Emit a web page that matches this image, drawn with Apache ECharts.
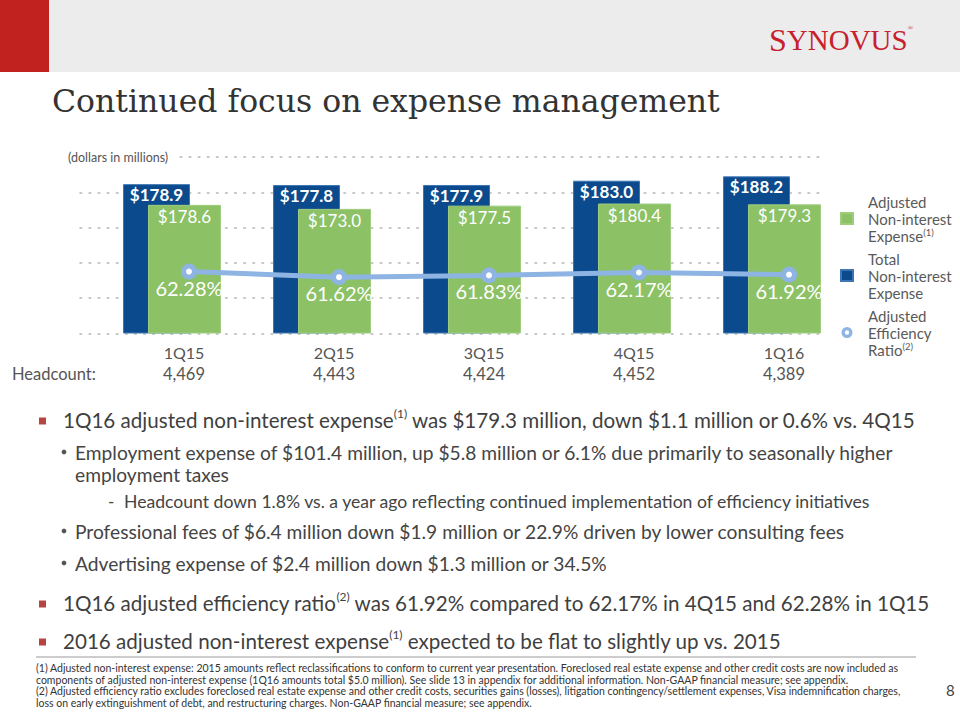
<!DOCTYPE html>
<html>
<head>
<meta charset="utf-8">
<script src="https://cdn.jsdelivr.net/npm/echarts@6/dist/echarts.min.js"></script>
<style>
html,body{margin:0;padding:0;background:#fff;}
#chart{width:960px;height:720px;}
</style>
</head>
<body>
<div id="chart"></div>
<script>
// ---- data ----
const quarters = ['1Q15', '2Q15', '3Q15', '4Q15', '1Q16'];
const headcount = ['4,469', '4,443', '4,424', '4,452', '4,389'];
const totalExpense = [178.9, 177.8, 177.9, 183.0, 188.2];
const adjustedExpense = [178.6, 173.0, 177.5, 180.4, 179.3];
const efficiencyRatio = [62.28, 61.62, 61.83, 62.17, 61.92];

const NAME_ADJ = 'Adjusted Non-interest Expense';
const NAME_TOT = 'Total Non-interest Expense';
const NAME_RAT = 'Adjusted Efficiency Ratio';
const legendText = {};
legendText[NAME_ADJ] = 'Adjusted\nNon-interest\nExpense{sup|(1)}';
legendText[NAME_TOT] = 'Total\nNon-interest\nExpense';
legendText[NAME_RAT] = 'Adjusted\nEfficiency\nRatio{sup|(2)}';

const BLUE = '#0b4b8d', GREEN = '#8cc166', LBLUE = '#8db4e2';
const FONT = 'Lato';
const BODY = '#444444';

const chart = echarts.init(document.getElementById('chart'), null, {renderer: 'svg'});

function bodyText(x, y, text, size, color, weight) {
  return {
    type: 'text', x: x, y: y, z: 10,
    style: {
      text: text, fontFamily: FONT, fontSize: size, fontWeight: weight || 'normal',
      fill: color || BODY, verticalAlign: 'middle', lineHeight: Math.round(size + 4),
      rich: {
        sup: {fontFamily: FONT, fontSize: Math.round(size * 0.56), lineHeight: Math.round(size * 0.62), verticalAlign: 'top', fill: color || BODY}
      }
    }
  };
}
function redBullet(y) {
  return {type: 'rect', shape: {x: 39, y: y - 3.5, width: 7, height: 7}, style: {fill: '#b6453f'}, z: 10};
}
function dot(x, y) {
  return {type: 'circle', shape: {cx: x, cy: y, r: 2.4}, style: {fill: '#555'}, z: 10};
}

const graphics = [
  {type: 'rect', shape: {x: 0, y: 0, width: 960, height: 72}, style: {fill: '#ececec'}, z: 1},
  {type: 'rect', shape: {x: 0, y: 0, width: 49, height: 72}, style: {fill: '#c1221f'}, z: 2},
  {type: 'text', x: 769, y: 40, z: 3, style: {
    text: '{a|S}{b|YNOVUS}{c|®}', verticalAlign: 'middle',
    rich: {
      a: {fontFamily: 'Liberation Serif', fontSize: 32, fill: '#c8202c'},
      b: {fontFamily: 'Liberation Serif', fontSize: 29, fill: '#c8202c'},
      c: {fontFamily: 'Liberation Serif', fontSize: 7, fill: '#c8202c', verticalAlign: 'top'}
    }
  }},
  {type: 'text', x: 52, y: 101, z: 3, style: {
    text: 'Continued focus on expense management', fontFamily: 'DejaVu Serif', fontSize: 31.5,
    fill: '#333333', verticalAlign: 'middle'
  }},
  {type: 'text', x: 68, y: 157, z: 5, style: {
    text: '(dollars in millions)', fontFamily: FONT, fontSize: 12.5, fill: '#555',
    verticalAlign: 'middle', backgroundColor: '#fff', padding: [3, 8, 3, 0]
  }},
  {type: 'text', x: 12, y: 374, z: 5, style: {
    text: 'Headcount:', fontFamily: FONT, fontSize: 16.5, fill: '#555', verticalAlign: 'middle'
  }},
  // body bullets
  redBullet(421),
  bodyText(63, 420, '1Q16 adjusted non-interest expense{sup|(1)} was $179.3 million, down $1.1 million or 0.6% vs. 4Q15', 20.6, '#3f3f3f'),
  dot(64, 452),
  bodyText(75, 452.5, 'Employment expense of $101.4 million, up $5.8 million or 6.1% due primarily to seasonally higher', 19.2),
  bodyText(75, 474, 'employment taxes', 19.2),
  {type: 'text', x: 108, y: 501, z: 10, style: {text: '-', fontFamily: FONT, fontSize: 17, fill: BODY, verticalAlign: 'middle'}},
  bodyText(124, 501, 'Headcount down 1.8% vs. a year ago reflecting continued implementation of efficiency initiatives', 17.6),
  dot(64, 531),
  bodyText(75, 531, 'Professional fees of $6.4 million down $1.9 million or 22.9% driven by lower consulting fees', 19.2),
  dot(64, 563),
  bodyText(75, 563, 'Advertising expense of $2.4 million down $1.3 million or 34.5%', 19.2),
  redBullet(604),
  bodyText(63, 603, '1Q16 adjusted efficiency ratio{sup|(2)} was 61.92% compared to 62.17% in 4Q15 and 62.28% in 1Q15', 20.6, '#3f3f3f'),
  redBullet(642),
  bodyText(63, 641, '2016 adjusted non-interest expense{sup|(1)} expected to be flat to slightly up vs. 2015', 20.6, '#3f3f3f'),
  // footnotes
  {type: 'line', shape: {x1: 36, y1: 657, x2: 916, y2: 657}, style: {stroke: '#9a9a9a', lineWidth: 1}, z: 5},
  bodyText(36, 668, '(1) Adjusted non-interest expense: 2015 amounts reflect reclassifications to conform to current year presentation. Foreclosed real estate expense and other credit costs are now included as', 10.5, '#333'),
  bodyText(36, 679.5, 'components of adjusted non-interest expense (1Q16 amounts total $5.0 million). See slide 13 in appendix for additional information. Non-GAAP financial measure; see appendix.', 10.5, '#333'),
  bodyText(36, 691, '(2) Adjusted efficiency ratio excludes foreclosed real estate expense and other credit costs, securities gains (losses), litigation contingency/settlement expenses, Visa indemnification charges,', 10.5, '#333'),
  bodyText(36, 702.5, 'loss on early extinguishment of debt, and restructuring charges. Non-GAAP financial measure; see appendix.', 10.5, '#333'),
  {type: 'text', x: 946, y: 690, z: 5, style: {text: '8', fontFamily: FONT, fontSize: 15, fill: '#444', verticalAlign: 'middle'}}
];

const option = {
  backgroundColor: '#fff',
  animation: false,
  textStyle: {fontFamily: FONT},
  grid: [
    {left: 97, right: 113, top: 157, bottom: 386.5},
    {left: 114, right: 96, top: 157, bottom: 386.5},
    {left: 80, right: 137, top: 157, bottom: 386.5}
  ],
  xAxis: [
    {type: 'category', gridIndex: 0, data: quarters, show: false},
    {type: 'category', gridIndex: 1, data: quarters,
      axisLine: {show: false}, axisTick: {show: false},
      axisLabel: {
        margin: 7.5, padding: [0, 10, 0, 0],
        formatter: function (v, i) { return '{q|' + v + '}\n{h|' + headcount[i] + '}'; },
        rich: {
          q: {fontFamily: FONT, fontSize: 16, color: '#555', lineHeight: 22},
          h: {fontFamily: FONT, fontSize: 16.5, color: '#555', lineHeight: 22}
        }
      }
    },
    {type: 'value', gridIndex: 2, min: 0, max: 1, show: false}
  ],
  yAxis: [
    {type: 'value', gridIndex: 0, min: 0, max: 211.4, show: false},
    {type: 'value', gridIndex: 0, min: 0, max: 245, show: false},
    {type: 'value', gridIndex: 1, min: 55, max: 75.75, show: false},
    {type: 'value', gridIndex: 2, min: 0, max: 5, interval: 1,
      axisLine: {show: false}, axisTick: {show: false}, axisLabel: {show: false},
      splitLine: {show: true, lineStyle: {color: '#b5b5b5', width: 1.6, type: [1.6, 7.5], cap: 'round'}}
    }
  ],
  legend: {
    orient: 'vertical', left: 840, top: 193, itemWidth: 12, itemHeight: 11, itemGap: 6,
    padding: 0, selectedMode: false,
    data: [
      {name: NAME_ADJ, icon: 'rect'},
      {name: NAME_TOT, icon: 'rect'},
      {name: NAME_RAT, icon: 'path://M0,-5A5,5 0 1,1 0,5A5,5 0 1,1 0,-5ZM0,-2A2,2 0 1,0 0,2A2,2 0 1,0 0,-2Z',
        itemStyle: {color: LBLUE, borderWidth: 0}}
    ],
    formatter: function (name) { return legendText[name]; },
    textStyle: {
      fontFamily: FONT, fontSize: 15, color: '#5a5a5a', lineHeight: 17, padding: [0, 0, 0, 10],
      rich: {sup: {fontFamily: FONT, fontSize: 9.5, lineHeight: 13, color: '#5a5a5a', verticalAlign: 'top'}}
    }
  },
  series: [
    {
      name: NAME_TOT, type: 'bar', xAxisIndex: 0, yAxisIndex: 0, data: totalExpense,
      barWidth: 67, barGap: '-62.7%',
      itemStyle: {color: BLUE, borderColor: '#3d76b3', borderWidth: 1},
      label: {show: true, position: 'insideTop', distance: 2, color: '#fff', fontFamily: FONT,
        fontSize: 17, fontWeight: 'bold', formatter: function (p) { return '$' + p.value.toFixed(1); }}
    },
    {
      name: NAME_ADJ, type: 'bar', xAxisIndex: 0, yAxisIndex: 1, data: adjustedExpense,
      barWidth: 73, barGap: '-62.7%',
      itemStyle: {color: GREEN, borderColor: '#9fcd80', borderWidth: 1},
      label: {show: true, position: 'insideTop', distance: 3, color: '#fff', fontFamily: FONT,
        fontSize: 17, formatter: function (p) { return '$' + p.value.toFixed(1); }}
    },
    {
      name: NAME_RAT, type: 'line', xAxisIndex: 1, yAxisIndex: 2, data: efficiencyRatio,
      symbol: 'circle', symbolSize: 11,
      lineStyle: {color: LBLUE, width: 5},
      itemStyle: {color: '#fff', borderColor: LBLUE, borderWidth: 5},
      label: {show: true, position: 'bottom', distance: -2, color: '#fff', fontFamily: FONT,
        fontSize: 20, formatter: function (p) { return p.value.toFixed(2) + '%'; }},
      z: 4
    }
  ],
  graphic: graphics
};
chart.setOption(option);
</script>
</body>
</html>
